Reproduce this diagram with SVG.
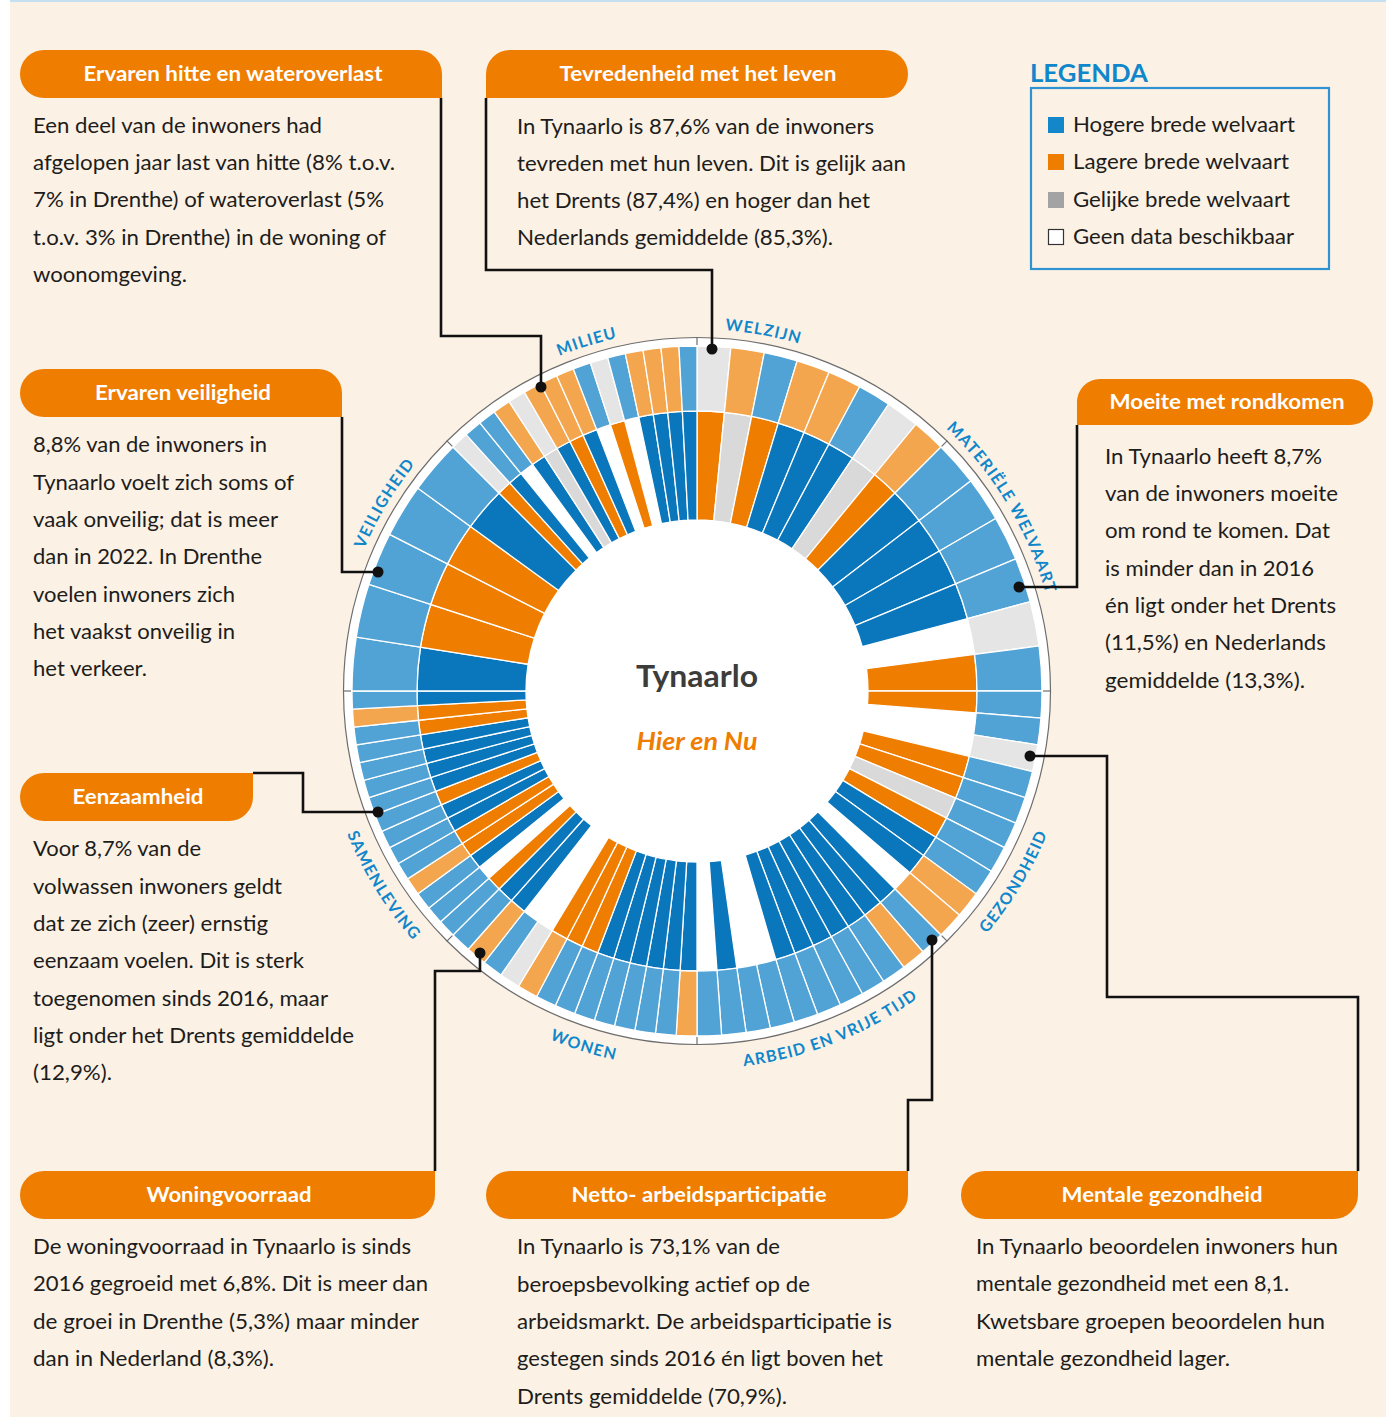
<svg xmlns="http://www.w3.org/2000/svg" width="1386" height="1417" viewBox="0 0 1386 1417">
<defs>
<style>
.ib{fill:#0a76bb}.io{fill:#ef7d00}.ig{fill:#d9d9d9}
.ob{fill:#51a2d5}.oo{fill:#f4a64f}.og{fill:#e5e5e5}
.tab{fill:#ef7d00}
.h{font-family:Lato,'Open Sans',sans-serif;font-weight:700;font-size:20px;fill:#fff;text-anchor:middle}
.t{font-family:Lato,'Open Sans',sans-serif;font-size:20.5px;fill:#1d1d1b}
.lg{font-family:Lato,'Open Sans',sans-serif;font-size:20.5px;fill:#1d1d1b}
.lab{font-family:Lato,'Open Sans',sans-serif;font-weight:700;font-size:16px;fill:#0f87ca;letter-spacing:1.2px;text-anchor:middle}
.con{fill:none;stroke:#111;stroke-width:2.6}
.dot{fill:#111}
</style>
<path id="i3" d="M0,-171 L0,-280 A280,280 0 0 1 14.654,-279.616 L8.949,-170.766 A171,171 0 0 0 0,-171Z"/>
<path id="i346" d="M0,-171 L0,-280 A280,280 0 0 1 16.906,-279.489 L10.325,-170.688 A171,171 0 0 0 0,-171Z"/>
<path id="i409" d="M0,-171 L0,-280 A280,280 0 0 1 19.975,-279.287 L12.199,-170.564 A171,171 0 0 0 0,-171Z"/>
<path id="i45" d="M0,-171 L0,-280 A280,280 0 0 1 21.969,-279.137 L13.416,-170.473 A171,171 0 0 0 0,-171Z"/>
<path id="i56" d="M0,-171 L0,-280 A280,280 0 0 1 27.445,-278.652 L16.761,-170.177 A171,171 0 0 0 0,-171Z"/>
<path id="i75" d="M0,-171 L0,-280 A280,280 0 0 1 36.547,-277.605 L22.320,-169.537 A171,171 0 0 0 0,-171Z"/>
<path id="i9" d="M0,-171 L0,-280 A280,280 0 0 1 43.802,-276.553 L26.750,-168.895 A171,171 0 0 0 0,-171Z"/>
<path id="o3" d="M0,-280 L0,-345 A345,345 0 0 1 18.056,-344.527 L14.654,-279.616 A280,280 0 0 0 0,-280Z"/>
<path id="o346" d="M0,-280 L0,-345 A345,345 0 0 1 20.830,-344.371 L16.906,-279.489 A280,280 0 0 0 0,-280Z"/>
<path id="o409" d="M0,-280 L0,-345 A345,345 0 0 1 24.612,-344.121 L19.975,-279.287 A280,280 0 0 0 0,-280Z"/>
<path id="o45" d="M0,-280 L0,-345 A345,345 0 0 1 27.068,-343.936 L21.969,-279.137 A280,280 0 0 0 0,-280Z"/>
<path id="o56" d="M0,-280 L0,-345 A345,345 0 0 1 33.816,-343.339 L27.445,-278.652 A280,280 0 0 0 0,-280Z"/>
<path id="o75" d="M0,-280 L0,-345 A345,345 0 0 1 45.031,-342.049 L36.547,-277.605 A280,280 0 0 0 0,-280Z"/>
<path id="o9" d="M0,-280 L0,-345 A345,345 0 0 1 53.970,-340.752 L43.802,-276.553 A280,280 0 0 0 0,-280Z"/>
<path id="pMil" d="M409.8,470.6 A362,362 0 0 1 805.9,345.8"/>
<path id="pWel" d="M546.9,361.6 A362,362 0 0 1 955.2,437.3"/>
<path id="pMat" d="M844.2,360.3 A362,362 0 0 1 1058.1,716.3"/>
<path id="pVei" d="M335.9,716.3 A362,362 0 0 1 549.8,360.3"/>
<path id="pGez" d="M850.7,1036.3 A378,378 0 0 0 1074.1,664.6"/>
<path id="pArb" d="M577.1,1049.5 A378,378 0 0 0 1029.2,871.4"/>
<path id="pWon" d="M396.3,920.1 A378,378 0 0 0 809.4,1051.9"/>
<path id="pSam" d="M319.6,669.9 A378,378 0 0 0 548.1,1038.4"/>
</defs>

<rect width="1386" height="1417" fill="#ffffff"/>
<rect x="10" y="2" width="1376" height="1415" fill="#fcf1e5"/>
<line x1="10" y1="1" x2="1386" y2="1" stroke="#c4e1f3" stroke-width="2"/>

<g id="chart">
  <circle cx="697" cy="691" r="353.5" fill="#fff" stroke="#6d6d6d" stroke-width="1.2"/>
  <g transform="translate(697,691)" stroke="#fff" stroke-width="1.3">
    <!-- Welzijn -->
    <use href="#i56" class="io" transform="rotate(0)"/>
    <use href="#i56" class="ig" transform="rotate(5.625)"/>
    <use href="#i56" class="io" transform="rotate(11.25)"/>
    <use href="#i56" class="ib" transform="rotate(16.875)"/>
    <use href="#i56" class="ib" transform="rotate(22.5)"/>
    <use href="#i56" class="ib" transform="rotate(28.125)"/>
    <use href="#i56" class="ig" transform="rotate(33.75)"/>
    <use href="#i56" class="io" transform="rotate(39.375)"/>
    <use href="#o56" class="og" transform="rotate(0)"/>
    <use href="#o56" class="oo" transform="rotate(5.625)"/>
    <use href="#o56" class="ob" transform="rotate(11.25)"/>
    <use href="#o56" class="oo" transform="rotate(16.875)"/>
    <use href="#o56" class="oo" transform="rotate(22.5)"/>
    <use href="#o56" class="ob" transform="rotate(28.125)"/>
    <use href="#o56" class="og" transform="rotate(33.75)"/>
    <use href="#o56" class="oo" transform="rotate(39.375)"/>
    <!-- Materiele welvaart -->
    <use href="#i75" class="ib" transform="rotate(45)"/>
    <use href="#i75" class="ib" transform="rotate(52.5)"/>
    <use href="#i75" class="ib" transform="rotate(60)"/>
    <use href="#i75" class="ib" transform="rotate(67.5)"/>
    <use href="#i75" class="io" transform="rotate(82.5)"/>
    <use href="#o75" class="ob" transform="rotate(45)"/>
    <use href="#o75" class="ob" transform="rotate(52.5)"/>
    <use href="#o75" class="ob" transform="rotate(60)"/>
    <use href="#o75" class="ob" transform="rotate(67.5)"/>
    <use href="#o75" class="og" transform="rotate(75)"/>
    <use href="#o75" class="ob" transform="rotate(82.5)"/>
    <!-- Gezondheid -->
    <use href="#i45" class="io" transform="rotate(90)"/>
    <use href="#i45" class="io" transform="rotate(103.5)"/>
    <use href="#i45" class="io" transform="rotate(108)"/>
    <use href="#i45" class="ig" transform="rotate(112.5)"/>
    <use href="#i45" class="io" transform="rotate(117)"/>
    <use href="#i45" class="ib" transform="rotate(121.5)"/>
    <use href="#i45" class="ib" transform="rotate(126)"/>
    <use href="#o45" class="ob" transform="rotate(90)"/>
    <use href="#o45" class="ob" transform="rotate(94.5)"/>
    <use href="#o45" class="og" transform="rotate(99)"/>
    <use href="#o45" class="ob" transform="rotate(103.5)"/>
    <use href="#o45" class="ob" transform="rotate(108)"/>
    <use href="#o45" class="ob" transform="rotate(112.5)"/>
    <use href="#o45" class="ob" transform="rotate(117)"/>
    <use href="#o45" class="ob" transform="rotate(121.5)"/>
    <use href="#o45" class="oo" transform="rotate(126)"/>
    <use href="#o45" class="oo" transform="rotate(130.5)"/>
    <!-- Arbeid en vrije tijd -->
    <use href="#i409" class="ib" transform="rotate(135)"/>
    <use href="#i409" class="ib" transform="rotate(139.0909)"/>
    <use href="#i409" class="ib" transform="rotate(143.1818)"/>
    <use href="#i409" class="ib" transform="rotate(147.2727)"/>
    <use href="#i409" class="ib" transform="rotate(151.3636)"/>
    <use href="#i409" class="ib" transform="rotate(155.4545)"/>
    <use href="#i409" class="ib" transform="rotate(159.5455)"/>
    <use href="#i409" class="ib" transform="rotate(171.8182)"/>
    <use href="#o409" class="ob" transform="rotate(135)"/>
    <use href="#o409" class="oo" transform="rotate(139.0909)"/>
    <use href="#o409" class="ob" transform="rotate(143.1818)"/>
    <use href="#o409" class="ob" transform="rotate(147.2727)"/>
    <use href="#o409" class="ob" transform="rotate(151.3636)"/>
    <use href="#o409" class="ob" transform="rotate(155.4545)"/>
    <use href="#o409" class="ob" transform="rotate(159.5455)"/>
    <use href="#o409" class="ob" transform="rotate(163.6364)"/>
    <use href="#o409" class="ob" transform="rotate(167.7273)"/>
    <use href="#o409" class="ob" transform="rotate(171.8182)"/>
    <use href="#o409" class="ob" transform="rotate(175.9091)"/>
    <!-- Wonen -->
    <use href="#i346" class="ib" transform="rotate(180)"/>
    <use href="#i346" class="ib" transform="rotate(183.4615)"/>
    <use href="#i346" class="ib" transform="rotate(186.9231)"/>
    <use href="#i346" class="ib" transform="rotate(190.3846)"/>
    <use href="#i346" class="ib" transform="rotate(193.8462)"/>
    <use href="#i346" class="ib" transform="rotate(197.3077)"/>
    <use href="#i346" class="io" transform="rotate(200.7692)"/>
    <use href="#i346" class="io" transform="rotate(204.2308)"/>
    <use href="#i346" class="io" transform="rotate(207.6923)"/>
    <use href="#i346" class="ib" transform="rotate(218.0769)"/>
    <use href="#i346" class="ib" transform="rotate(221.5385)"/>
    <use href="#o346" class="oo" transform="rotate(180)"/>
    <use href="#o346" class="ob" transform="rotate(183.4615)"/>
    <use href="#o346" class="ob" transform="rotate(186.9231)"/>
    <use href="#o346" class="ob" transform="rotate(190.3846)"/>
    <use href="#o346" class="ob" transform="rotate(193.8462)"/>
    <use href="#o346" class="ob" transform="rotate(197.3077)"/>
    <use href="#o346" class="ob" transform="rotate(200.7692)"/>
    <use href="#o346" class="ob" transform="rotate(204.2308)"/>
    <use href="#o346" class="oo" transform="rotate(207.6923)"/>
    <use href="#o346" class="og" transform="rotate(211.1538)"/>
    <use href="#o346" class="ob" transform="rotate(214.6154)"/>
    <use href="#o346" class="oo" transform="rotate(218.0769)"/>
    <use href="#o346" class="ob" transform="rotate(221.5385)"/>
    <!-- Samenleving -->
    <use href="#i3" class="io" transform="rotate(225)"/>
    <use href="#i3" class="ib" transform="rotate(231)"/>
    <use href="#i3" class="io" transform="rotate(234)"/>
    <use href="#i3" class="io" transform="rotate(237)"/>
    <use href="#i3" class="ib" transform="rotate(240)"/>
    <use href="#i3" class="ib" transform="rotate(243)"/>
    <use href="#i3" class="io" transform="rotate(246)"/>
    <use href="#i3" class="ib" transform="rotate(249)"/>
    <use href="#i3" class="ib" transform="rotate(252)"/>
    <use href="#i3" class="ib" transform="rotate(255)"/>
    <use href="#i3" class="ib" transform="rotate(258)"/>
    <use href="#i3" class="io" transform="rotate(261)"/>
    <use href="#i3" class="io" transform="rotate(264)"/>
    <use href="#i3" class="ib" transform="rotate(267)"/>
    <use href="#o3" class="ob" transform="rotate(225)"/>
    <use href="#o3" class="ob" transform="rotate(228)"/>
    <use href="#o3" class="ob" transform="rotate(231)"/>
    <use href="#o3" class="oo" transform="rotate(234)"/>
    <use href="#o3" class="ob" transform="rotate(237)"/>
    <use href="#o3" class="ob" transform="rotate(240)"/>
    <use href="#o3" class="ob" transform="rotate(243)"/>
    <use href="#o3" class="ob" transform="rotate(246)"/>
    <use href="#o3" class="ob" transform="rotate(249)"/>
    <use href="#o3" class="ob" transform="rotate(252)"/>
    <use href="#o3" class="ob" transform="rotate(255)"/>
    <use href="#o3" class="ob" transform="rotate(258)"/>
    <use href="#o3" class="ob" transform="rotate(261)"/>
    <use href="#o3" class="oo" transform="rotate(264)"/>
    <use href="#o3" class="ob" transform="rotate(267)"/>
    <!-- Veiligheid -->
    <use href="#i9" class="ib" transform="rotate(270)"/>
    <use href="#i9" class="io" transform="rotate(279)"/>
    <use href="#i9" class="io" transform="rotate(288)"/>
    <use href="#i9" class="io" transform="rotate(297)"/>
    <use href="#i9" class="ib" transform="rotate(306)"/>
    <use href="#o9" class="ob" transform="rotate(270)"/>
    <use href="#o9" class="ob" transform="rotate(279)"/>
    <use href="#o9" class="ob" transform="rotate(288)"/>
    <use href="#o9" class="ob" transform="rotate(297)"/>
    <use href="#o9" class="ob" transform="rotate(306)"/>
    <!-- Milieu -->
    <use href="#i3" class="io" transform="rotate(315)"/>
    <use href="#i3" class="ib" transform="rotate(318)"/>
    <use href="#i3" class="ib" transform="rotate(324)"/>
    <use href="#i3" class="ig" transform="rotate(327)"/>
    <use href="#i3" class="ib" transform="rotate(330)"/>
    <use href="#i3" class="io" transform="rotate(333)"/>
    <use href="#i3" class="ib" transform="rotate(336)"/>
    <use href="#i3" class="io" transform="rotate(342)"/>
    <use href="#i3" class="ib" transform="rotate(348)"/>
    <use href="#i3" class="ib" transform="rotate(351)"/>
    <use href="#i3" class="ib" transform="rotate(354)"/>
    <use href="#i3" class="ib" transform="rotate(357)"/>
    <use href="#o3" class="og" transform="rotate(315)"/>
    <use href="#o3" class="ob" transform="rotate(318)"/>
    <use href="#o3" class="ob" transform="rotate(321)"/>
    <use href="#o3" class="oo" transform="rotate(324)"/>
    <use href="#o3" class="og" transform="rotate(327)"/>
    <use href="#o3" class="oo" transform="rotate(330)"/>
    <use href="#o3" class="oo" transform="rotate(333)"/>
    <use href="#o3" class="oo" transform="rotate(336)"/>
    <use href="#o3" class="ob" transform="rotate(339)"/>
    <use href="#o3" class="og" transform="rotate(342)"/>
    <use href="#o3" class="ob" transform="rotate(345)"/>
    <use href="#o3" class="oo" transform="rotate(348)"/>
    <use href="#o3" class="oo" transform="rotate(351)"/>
    <use href="#o3" class="oo" transform="rotate(354)"/>
    <use href="#o3" class="ob" transform="rotate(357)"/>
  </g>
  <g transform="translate(697,691)" stroke="#6d6d6d" stroke-width="1.2">
    <line x1="0" y1="-346" x2="0" y2="-354" transform="rotate(0)"/>
    <line x1="0" y1="-346" x2="0" y2="-354" transform="rotate(45)"/>
    <line x1="0" y1="-346" x2="0" y2="-354" transform="rotate(90)"/>
    <line x1="0" y1="-346" x2="0" y2="-354" transform="rotate(135)"/>
    <line x1="0" y1="-346" x2="0" y2="-354" transform="rotate(180)"/>
    <line x1="0" y1="-346" x2="0" y2="-354" transform="rotate(225)"/>
    <line x1="0" y1="-346" x2="0" y2="-354" transform="rotate(270)"/>
    <line x1="0" y1="-346" x2="0" y2="-354" transform="rotate(315)"/>
  </g>
  <text x="697" y="687" text-anchor="middle" font-family="Lato,'Open Sans',sans-serif" font-weight="700" font-size="31" fill="#3c3c3b" textLength="122" lengthAdjust="spacingAndGlyphs">Tynaarlo</text>
  <text x="697" y="750" text-anchor="middle" font-family="Lato,'Open Sans',sans-serif" font-weight="700" font-style="italic" font-size="24" fill="#ef7d00" textLength="121" lengthAdjust="spacingAndGlyphs">Hier en Nu</text>
  <text class="lab"><textPath href="#pMil" startOffset="50%">MILIEU</textPath></text>
  <text class="lab"><textPath href="#pWel" startOffset="50%">WELZIJN</textPath></text>
  <text class="lab"><textPath href="#pMat" startOffset="50%">MATERIËLE WELVAART</textPath></text>
  <text class="lab"><textPath href="#pVei" startOffset="50%">VEILIGHEID</textPath></text>
  <text class="lab"><textPath href="#pGez" startOffset="50%">GEZONDHEID</textPath></text>
  <text class="lab"><textPath href="#pArb" startOffset="50%">ARBEID EN VRIJE TIJD</textPath></text>
  <text class="lab"><textPath href="#pWon" startOffset="50%">WONEN</textPath></text>
  <text class="lab"><textPath href="#pSam" startOffset="50%">SAMENLEVING</textPath></text>
</g>

<g id="connectors">
  <path class="con" d="M441,98 V336 H541 V387"/>
  <path class="con" d="M486,98 V270 H712 V349"/>
  <path class="con" d="M342,417 V572 H378"/>
  <path class="con" d="M1077,425 V587 H1019"/>
  <path class="con" d="M253,773 H303 V812 H378"/>
  <path class="con" d="M435,1171 V971 H480 V953"/>
  <path class="con" d="M908,1171 V1100 H932 V940"/>
  <path class="con" d="M1358,1171 V997 H1107 V756 H1030"/>
  <circle class="dot" cx="541" cy="387" r="5.5"/>
  <circle class="dot" cx="712" cy="349" r="5.5"/>
  <circle class="dot" cx="378" cy="572" r="5.5"/>
  <circle class="dot" cx="1019" cy="587" r="5.5"/>
  <circle class="dot" cx="378" cy="812" r="5.5"/>
  <circle class="dot" cx="480" cy="953" r="5.5"/>
  <circle class="dot" cx="932" cy="940" r="5.5"/>
  <circle class="dot" cx="1030" cy="756" r="5.5"/>
</g>

<g id="legend">
  <text x="1030" y="82" font-family="Lato,'Open Sans',sans-serif" font-weight="700" font-size="24" fill="#0f87ca" textLength="118" lengthAdjust="spacingAndGlyphs">LEGENDA</text>
  <rect x="1031" y="88" width="298" height="181" fill="none" stroke="#2f93d1" stroke-width="2.2"/>
  <rect x="1048" y="117" width="16" height="16" fill="#1487ca"/>
  <rect x="1048" y="154" width="16" height="16" fill="#ef7d00"/>
  <rect x="1048" y="192" width="16" height="16" fill="#a3a3a3"/>
  <rect x="1048.5" y="229.5" width="15" height="15" fill="#fff" stroke="#333" stroke-width="1.2"/>
  <text class="lg" x="1073" y="132" textLength="222" lengthAdjust="spacingAndGlyphs">Hogere brede welvaart</text>
  <text class="lg" x="1073" y="169" textLength="216" lengthAdjust="spacingAndGlyphs">Lagere brede welvaart</text>
  <text class="lg" x="1073" y="207" textLength="217" lengthAdjust="spacingAndGlyphs">Gelijke brede welvaart</text>
  <text class="lg" x="1073" y="244" textLength="221" lengthAdjust="spacingAndGlyphs">Geen data beschikbaar</text>
</g>

<g id="hitte">
  <path class="tab" d="M44,50 H418 A24,24 0 0 1 442,74 V98 H44 A24,24 0 0 1 20,74 A24,24 0 0 1 44,50Z"/>
  <text class="h" x="233" y="81" textLength="299" lengthAdjust="spacingAndGlyphs">Ervaren hitte en wateroverlast</text>
  <text class="t" x="33" y="133" textLength="289" lengthAdjust="spacingAndGlyphs">Een deel van de inwoners had</text>
  <text class="t" x="33" y="170" textLength="362" lengthAdjust="spacingAndGlyphs">afgelopen jaar last van hitte (8% t.o.v.</text>
  <text class="t" x="33" y="207" textLength="351" lengthAdjust="spacingAndGlyphs">7% in Drenthe) of wateroverlast (5%</text>
  <text class="t" x="33" y="245" textLength="353" lengthAdjust="spacingAndGlyphs">t.o.v. 3% in Drenthe) in de woning of</text>
  <text class="t" x="33" y="282" textLength="154" lengthAdjust="spacingAndGlyphs">woonomgeving.</text>
</g>

<g id="tevredenheid">
  <path class="tab" d="M510,50 H884 A24,24 0 0 1 908,74 A24,24 0 0 1 884,98 H486 V74 A24,24 0 0 1 510,50Z"/>
  <text class="h" x="698" y="81" textLength="277" lengthAdjust="spacingAndGlyphs">Tevredenheid met het leven</text>
  <text class="t" x="517" y="134" textLength="357" lengthAdjust="spacingAndGlyphs">In Tynaarlo is 87,6% van de inwoners</text>
  <text class="t" x="517" y="171" textLength="389" lengthAdjust="spacingAndGlyphs">tevreden met hun leven. Dit is gelijk aan</text>
  <text class="t" x="517" y="208" textLength="353" lengthAdjust="spacingAndGlyphs">het Drents (87,4%) en hoger dan het</text>
  <text class="t" x="517" y="245" textLength="316" lengthAdjust="spacingAndGlyphs">Nederlands gemiddelde (85,3%).</text>
</g>

<g id="veiligheid">
  <path class="tab" d="M44,369 H318 A24,24 0 0 1 342,393 V417 H44 A24,24 0 0 1 20,393 A24,24 0 0 1 44,369Z"/>
  <text class="h" x="183" y="400" textLength="176" lengthAdjust="spacingAndGlyphs">Ervaren veiligheid</text>
  <text class="t" x="33" y="452" textLength="234" lengthAdjust="spacingAndGlyphs">8,8% van de inwoners in</text>
  <text class="t" x="33" y="490" textLength="261" lengthAdjust="spacingAndGlyphs">Tynaarlo voelt zich soms of</text>
  <text class="t" x="33" y="527" textLength="245" lengthAdjust="spacingAndGlyphs">vaak onveilig; dat is meer</text>
  <text class="t" x="33" y="564" textLength="229" lengthAdjust="spacingAndGlyphs">dan in 2022. In Drenthe</text>
  <text class="t" x="33" y="602" textLength="202" lengthAdjust="spacingAndGlyphs">voelen inwoners zich</text>
  <text class="t" x="33" y="639" textLength="202" lengthAdjust="spacingAndGlyphs">het vaakst onveilig in</text>
  <text class="t" x="33" y="676" textLength="114" lengthAdjust="spacingAndGlyphs">het verkeer.</text>
</g>

<g id="rondkomen">
  <path class="tab" d="M1100,379 H1350 A23,23 0 0 1 1373,402 A23,23 0 0 1 1350,425 H1077 V402 A23,23 0 0 1 1100,379Z"/>
  <text class="h" x="1227" y="409" textLength="235" lengthAdjust="spacingAndGlyphs">Moeite met rondkomen</text>
  <text class="t" x="1105" y="464" textLength="217" lengthAdjust="spacingAndGlyphs">In Tynaarlo heeft 8,7%</text>
  <text class="t" x="1105" y="501" textLength="233" lengthAdjust="spacingAndGlyphs">van de inwoners moeite</text>
  <text class="t" x="1105" y="538" textLength="225" lengthAdjust="spacingAndGlyphs">om rond te komen. Dat</text>
  <text class="t" x="1105" y="576" textLength="209" lengthAdjust="spacingAndGlyphs">is minder dan in 2016</text>
  <text class="t" x="1105" y="613" textLength="231" lengthAdjust="spacingAndGlyphs">én ligt onder het Drents</text>
  <text class="t" x="1105" y="650" textLength="221" lengthAdjust="spacingAndGlyphs">(11,5%) en Nederlands</text>
  <text class="t" x="1105" y="688" textLength="200" lengthAdjust="spacingAndGlyphs">gemiddelde (13,3%).</text>
</g>

<g id="eenzaamheid">
  <path class="tab" d="M44,773 H253 V797 A24,24 0 0 1 229,821 H44 A24,24 0 0 1 20,797 A24,24 0 0 1 44,773Z"/>
  <text class="h" x="138" y="804" textLength="131" lengthAdjust="spacingAndGlyphs">Eenzaamheid</text>
  <text class="t" x="33" y="856" textLength="168" lengthAdjust="spacingAndGlyphs">Voor 8,7% van de</text>
  <text class="t" x="33" y="894" textLength="249" lengthAdjust="spacingAndGlyphs">volwassen inwoners geldt</text>
  <text class="t" x="33" y="931" textLength="235" lengthAdjust="spacingAndGlyphs">dat ze zich (zeer) ernstig</text>
  <text class="t" x="33" y="968" textLength="271" lengthAdjust="spacingAndGlyphs">eenzaam voelen. Dit is sterk</text>
  <text class="t" x="33" y="1006" textLength="295" lengthAdjust="spacingAndGlyphs">toegenomen sinds 2016, maar</text>
  <text class="t" x="33" y="1043" textLength="321" lengthAdjust="spacingAndGlyphs">ligt onder het Drents gemiddelde</text>
  <text class="t" x="33" y="1080" textLength="79" lengthAdjust="spacingAndGlyphs">(12,9%).</text>
</g>

<g id="woningvoorraad">
  <path class="tab" d="M44,1171 H435 V1195 A24,24 0 0 1 411,1219 H44 A24,24 0 0 1 20,1195 A24,24 0 0 1 44,1171Z"/>
  <text class="h" x="229" y="1202" textLength="165" lengthAdjust="spacingAndGlyphs">Woningvoorraad</text>
  <text class="t" x="33" y="1254" textLength="378" lengthAdjust="spacingAndGlyphs">De woningvoorraad in Tynaarlo is sinds</text>
  <text class="t" x="33" y="1291" textLength="395" lengthAdjust="spacingAndGlyphs">2016 gegroeid met 6,8%. Dit is meer dan</text>
  <text class="t" x="33" y="1329" textLength="386" lengthAdjust="spacingAndGlyphs">de groei in Drenthe (5,3%) maar minder</text>
  <text class="t" x="33" y="1366" textLength="241" lengthAdjust="spacingAndGlyphs">dan in Nederland (8,3%).</text>
</g>

<g id="arbeidsparticipatie">
  <path class="tab" d="M510,1171 H908 V1195 A24,24 0 0 1 884,1219 H510 A24,24 0 0 1 486,1195 A24,24 0 0 1 510,1171Z"/>
  <text class="h" x="699" y="1202" textLength="255" lengthAdjust="spacingAndGlyphs">Netto- arbeidsparticipatie</text>
  <text class="t" x="517" y="1254" textLength="263" lengthAdjust="spacingAndGlyphs">In Tynaarlo is 73,1% van de</text>
  <text class="t" x="517" y="1292" textLength="293" lengthAdjust="spacingAndGlyphs">beroepsbevolking actief op de</text>
  <text class="t" x="517" y="1329" textLength="375" lengthAdjust="spacingAndGlyphs">arbeidsmarkt. De arbeidsparticipatie is</text>
  <text class="t" x="517" y="1366" textLength="366" lengthAdjust="spacingAndGlyphs">gestegen sinds 2016 én ligt boven het</text>
  <text class="t" x="517" y="1404" textLength="270" lengthAdjust="spacingAndGlyphs">Drents gemiddelde (70,9%).</text>
</g>

<g id="mentale-gezondheid">
  <path class="tab" d="M985,1171 H1358 V1195 A24,24 0 0 1 1334,1219 H985 A24,24 0 0 1 961,1195 A24,24 0 0 1 985,1171Z"/>
  <text class="h" x="1162" y="1202" textLength="201" lengthAdjust="spacingAndGlyphs">Mentale gezondheid</text>
  <text class="t" x="976" y="1254" textLength="362" lengthAdjust="spacingAndGlyphs">In Tynaarlo beoordelen inwoners hun</text>
  <text class="t" x="976" y="1291" textLength="313" lengthAdjust="spacingAndGlyphs">mentale gezondheid met een 8,1.</text>
  <text class="t" x="976" y="1329" textLength="349" lengthAdjust="spacingAndGlyphs">Kwetsbare groepen beoordelen hun</text>
  <text class="t" x="976" y="1366" textLength="254" lengthAdjust="spacingAndGlyphs">mentale gezondheid lager.</text>
</g>
</svg>
